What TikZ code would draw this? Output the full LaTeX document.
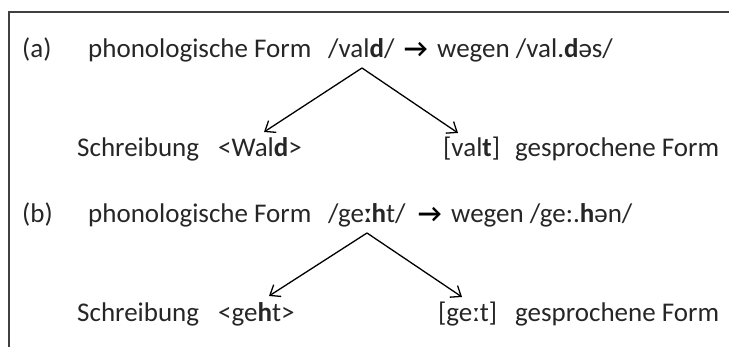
\documentclass[tikz,border=0pt]{standalone}
\usepackage{fontspec}
\setmainfont{Carlito}
\usetikzlibrary{arrows.meta}
\begin{document}
\begin{tikzpicture}[x=1pt,y=-1pt,
  txt/.style={anchor=base west,inner sep=0pt,font=\fontsize{27}{30}\selectfont,text=black!85},
  bigarrow/.style={anchor=base west,inner sep=0pt,font=\bfseries\fontsize{26}{30}\selectfont,text=black},
  branch/.style={draw=black,line width=1.3pt,-{Straight Barb[length=9pt,width=14pt,line width=1.3pt]}},
  frameline/.style={draw=black!75,line width=2pt}]
\useasboundingbox (0,0) rectangle (729,347);
% open frame: top and left edges
\draw[frameline] (729,12) -- (9,12) -- (9,347);

% (a) Wald
\node[txt] (la) at (22,58) {(a)};
\node[txt] (pfa) at (88,58) {phonologische Form};
\node[txt] (pha) at (328,58) {/val\textbf{d}/};
\node[bigarrow] (ara) at (404,58) {→};
\node[txt] (wga) at (437,58) {wegen /val.\textbf{d}əs/};
\node[txt] (sca) at (77,157) {Schreibung};
\node[txt] (gra) at (218,157) {<Wal\textbf{d}>};
\node[txt] (spa) at (443,157) {[val\textbf{t}]};
\node[txt] (gfa) at (515,157) {gesprochene Form};
\coordinate (apa) at (362,68);
\draw[branch] (apa) -- (264,132);
\draw[branch] (apa) -- (458,133);

% (b) geht
\node[txt] (lb) at (22,223) {(b)};
\node[txt] (pfb) at (88,223) {phonologische Form};
\node[txt] (phb) at (328,223) {/ge\textbf{ːh}t/};
\node[bigarrow] (arb) at (418,223) {→};
\node[txt] (wgb) at (451,223) {wegen /ge:.\textbf{h}ən/};
\node[txt] (scb) at (77,322) {Schreibung};
\node[txt] (grb) at (218,322) {<ge\textbf{h}t>};
\node[txt] (spb) at (438,322) {[geːt]};
\node[txt] (gfb) at (515,322) {gesprochene Form};
\coordinate (apb) at (367,233);
\draw[branch] (apb) -- (269,296);
\draw[branch] (apb) -- (462,297);
\end{tikzpicture}
\end{document}
